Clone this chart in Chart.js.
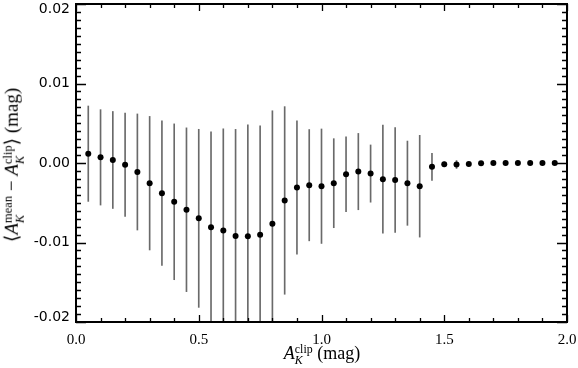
<!DOCTYPE html>
<html>
<head>
<meta charset="utf-8">
<script src="https://cdn.jsdelivr.net/npm/chart.js@4.4.0/dist/chart.umd.min.js"></script>
<style>
  html,body{margin:0;padding:0;background:#fff;}
  #wrap{position:relative;width:578px;height:368px;}
  #c{display:block;}
  .ttl{position:absolute;font-family:"Liberation Serif","DejaVu Serif",serif;font-size:18px;color:#000;white-space:nowrap;line-height:1;}
  .ss{display:inline-block;vertical-align:-0.45em;font-size:0.66em;line-height:0.95;text-align:left;}
  .ss span{display:block;}
  #xt{left:322px;top:344px;transform:translateX(-50%);}
  #yt{left:14px;top:165px;font-size:19px;transform:translate(-50%,-50%) rotate(-90deg);}
</style>
</head>
<body>
<div id="wrap">
  <canvas id="c" width="578" height="368"></canvas>
  <div id="xt" class="ttl"><i>A</i><span class="ss"><span>clip</span><span><i>K</i></span></span> (mag)</div>
  <div id="yt" class="ttl">⟨<i>A</i><span class="ss"><span>mean</span><span><i>K</i></span></span> − <i>A</i><span class="ss"><span>clip</span><span><i>K</i></span></span>⟩ (mag)</div>
</div>
<script>
// ===== Data =====
const clipValues = [0.05,0.10,0.15,0.20,0.25,0.30,0.35,0.40,0.45,0.50,
                    0.55,0.60,0.65,0.70,0.75,0.80,0.85,0.90,0.95,1.00,
                    1.05,1.10,1.15,1.20,1.25,1.30,1.35,1.40,1.45,1.50,
                    1.55,1.60,1.65,1.70,1.75,1.80,1.85,1.90,1.95];
const meanDiff = [0.00117,0.00071,0.00038,-0.00021,-0.00113,-0.00254,-0.00379,-0.00488,-0.00588,-0.00696,
                  -0.00808,-0.00850,-0.00917,-0.00921,-0.00904,-0.00763,-0.00471,-0.00308,-0.00279,-0.00292,
                  -0.00254,-0.00142,-0.00108,-0.00133,-0.00204,-0.00213,-0.00254,-0.00292,-0.00048,-0.00017,
                  -0.00019,-0.00013,-0.00004,0,0,0,0,0,0];
const errDiff = [0.0060,0.0060,0.0061,0.0065,0.0073,0.0084,0.0091,0.0098,0.0103,0.0112,
                 0.0120,0.0128,0.0134,0.0140,0.0137,0.0142,0.0118,0.0084,0.0070,0.0072,
                 0.0056,0.0047,0.0048,0.0036,0.0068,0.0066,0.0053,0.0064,0.0017,0.0003,
                 0.0005,0.0002,0.0001,0,0,0,0,0,0];
const xTicks = [0.0,0.5,1.0,1.5,2.0];
const yTicks = [-0.02,-0.01,0.00,0.01,0.02];

// ===== Helpers =====
function near(v,step){ return Math.abs(v/step-Math.round(v/step))<1e-6; }

// frame with inward IDL style ticks on all four sides
const framePlugin = {
  id:"frame",
  beforeDraw(chart){
    // IDL nudges the end labels inside the box
    const items = chart.scales.y.getLabelItems();
    items.forEach(it=>{
      if(it.label==="0.02") it.options.translation[1]+=5;
      if(it.label==="-0.02") it.options.translation[1]-=5;
    });
  },
  afterDraw(chart){
    const {ctx,chartArea:a,scales:{x,y}} = chart;
    ctx.save();
    ctx.strokeStyle="#000";
    ctx.lineWidth=1.3;
    ctx.beginPath();
    for(let i=0;i<=20;i++){
      const v=i*0.1, px=Math.round(x.getPixelForValue(v))+0.5;
      const len=near(v,0.5)?7:4;
      ctx.moveTo(px,a.bottom); ctx.lineTo(px,a.bottom-len);
      ctx.moveTo(px,a.top); ctx.lineTo(px,a.top+len);
    }
    for(let i=0;i<=40;i++){
      const v=-0.02+i*0.001, py=Math.round(y.getPixelForValue(v))+0.5;
      const len=near(v,0.01)?10:5;
      ctx.moveTo(a.left,py); ctx.lineTo(a.left+len,py);
      ctx.moveTo(a.right,py); ctx.lineTo(a.right-len,py);
    }
    ctx.stroke();
    ctx.lineWidth=2;
    ctx.strokeRect(a.left,a.top,a.right-a.left,a.bottom-a.top);
    ctx.restore();
  }
};

// ===== Chart =====
const ctx = document.getElementById("c").getContext("2d");
new Chart(ctx,{
  data:{
    datasets:[
      {
        type:"scatter",
        data:clipValues.map((v,i)=>({x:v,y:meanDiff[i]})),
        pointRadius:3,
        pointBackgroundColor:"#000",
        pointBorderWidth:0,
        showLine:false,
        order:0
      },
      {
        type:"bar",
        data:clipValues.map((v,i)=>({x:v,y:[meanDiff[i]-errDiff[i],meanDiff[i]+errDiff[i]]})),
        backgroundColor:"#6a6a6a",
        borderWidth:0,
        barThickness:1,
        grouped:false,
        order:1
      }
    ]
  },
  options:{
    responsive:false,
    animation:false,
    layout:{padding:{top:2,right:11,left:0,bottom:0}},
    plugins:{legend:{display:false},tooltip:{enabled:false}},
    scales:{
      x:{
        type:"linear",min:0,max:2,offset:false,
        afterBuildTicks:s=>{ s.ticks=xTicks.map(v=>({value:v})); },
        afterFit:s=>{ s.height=46; s.paddingLeft=0; s.paddingRight=0; },
        ticks:{callback:v=>v.toFixed(1),color:"#000",padding:9,maxRotation:0,
               font:{family:"'Liberation Serif', serif",size:15}},
        grid:{display:false,drawTicks:false},
        border:{display:false}
      },
      y:{
        type:"linear",min:-0.02,max:0.02,
        afterBuildTicks:s=>{ s.ticks=yTicks.map(v=>({value:v})); },
        afterFit:s=>{ s.width=76; s.paddingTop=0; s.paddingBottom=0; },
        ticks:{callback:v=>(Math.abs(v)<1e-9?0:v).toFixed(2),color:"#000",padding:6,
               font:{family:"'DejaVu Sans', sans-serif",size:14}},
        grid:{display:false,drawTicks:false},
        border:{display:false}
      }
    }
  },
  plugins:[framePlugin]
});
</script>
</body>
</html>
